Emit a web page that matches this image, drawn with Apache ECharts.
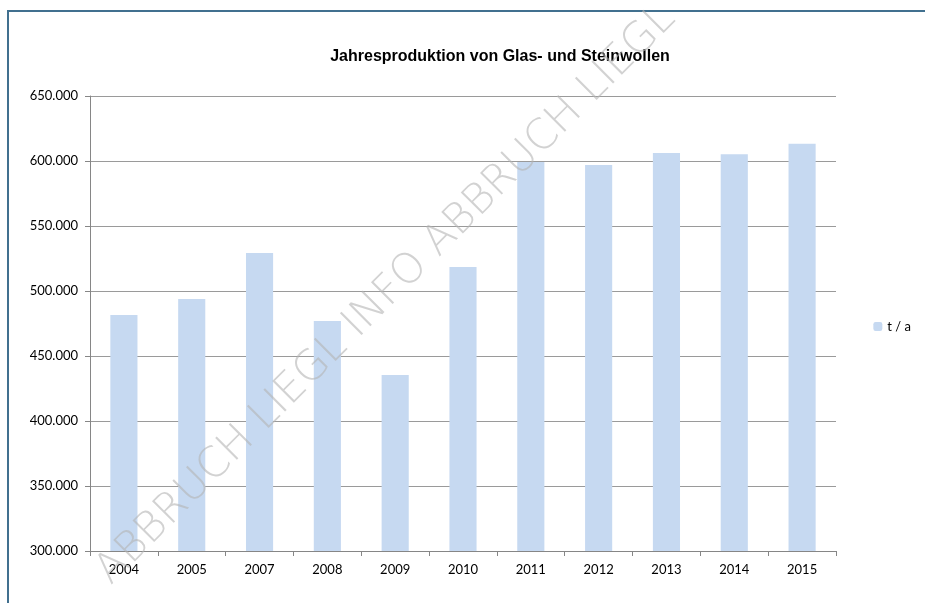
<!DOCTYPE html>
<html>
<head>
<meta charset="utf-8">
<script src="https://cdn.jsdelivr.net/npm/echarts@6/dist/echarts.min.js"></script>
<style>
  html, body { margin: 0; padding: 0; background: #fff; }
  #chart { width: 925px; height: 603px; }
</style>
</head>
<body>
<div id="chart"></div>
<script>
const years = ['2004', '2005', '2007', '2008', '2009', '2010', '2011', '2012', '2013', '2014', '2015']
const tonnes = [481500, 493800, 529200, 477000, 435400, 518500, 599300, 597000, 606200, 605200, 613300]
const seriesName = 't / a'

// Tausenderpunkt wie im Original
function fmt(v) {
  return String(v).replace(/\B(?=(\d{3})+(?!\d))/g, '.')
}

const chart = echarts.init(document.getElementById('chart'))
chart.setOption({
  animation: false,
  title: {
    text: 'Jahresproduktion von Glas- und Steinwollen',
    left: 495,
    top: 44,
    textAlign: 'center',
    textStyle: { fontFamily: 'Liberation Sans', fontSize: 16, fontWeight: 'bold', color: '#000' }
  },
  legend: {
    right: 9,
    top: 315,
    itemWidth: 9,
    itemHeight: 9,
    itemGap: 5,
    textStyle: { fontFamily: 'Lato', fontSize: 13, color: '#000' },
    data: [seriesName]
  },
  grid: { left: 90, right: 89, top: 96, bottom: 52, containLabel: false },
  xAxis: {
    type: 'category',
    data: years,
    axisLine: { lineStyle: { color: '#868686' } },
    axisTick: { show: true, length: 5, lineStyle: { color: '#868686' } },
    axisLabel: { fontFamily: 'Lato', fontSize: 13, color: '#000', margin: 12 }
  },
  yAxis: {
    type: 'value',
    min: 300000,
    max: 650000,
    interval: 50000,
    axisLine: { show: true, lineStyle: { color: '#868686' } },
    axisTick: { show: true, length: 5, lineStyle: { color: '#868686' } },
    splitLine: { lineStyle: { color: '#9a9a9a' } },
    axisLabel: { fontFamily: 'Lato', fontSize: 13, color: '#000', margin: 12, formatter: fmt }
  },
  series: [
    {
      name: seriesName,
      type: 'bar',
      data: tonnes,
      barWidth: '40%',
      itemStyle: { color: '#c6d9f1' }
    }
  ],
  graphic: [
    {
      type: 'rect',
      shape: { x: 8, y: 11, width: 960, height: 640 },
      style: { fill: 'none', stroke: '#41708f', lineWidth: 2 },
      silent: true
    },
    {
      type: 'text',
      x: 386,
      y: 295,
      rotation: Math.PI / 4,
      z: 100,
      silent: true,
      style: {
        text: 'ABBRUCH LIEGL INFO ABBRUCH LIEGL',
        fontFamily: 'DejaVu Sans',
        fontWeight: 200,
        fontSize: 42,
        fill: 'rgba(180,180,180,0.6)',
        align: 'center',
        verticalAlign: 'middle'
      }
    }
  ]
})
</script>
</body>
</html>
